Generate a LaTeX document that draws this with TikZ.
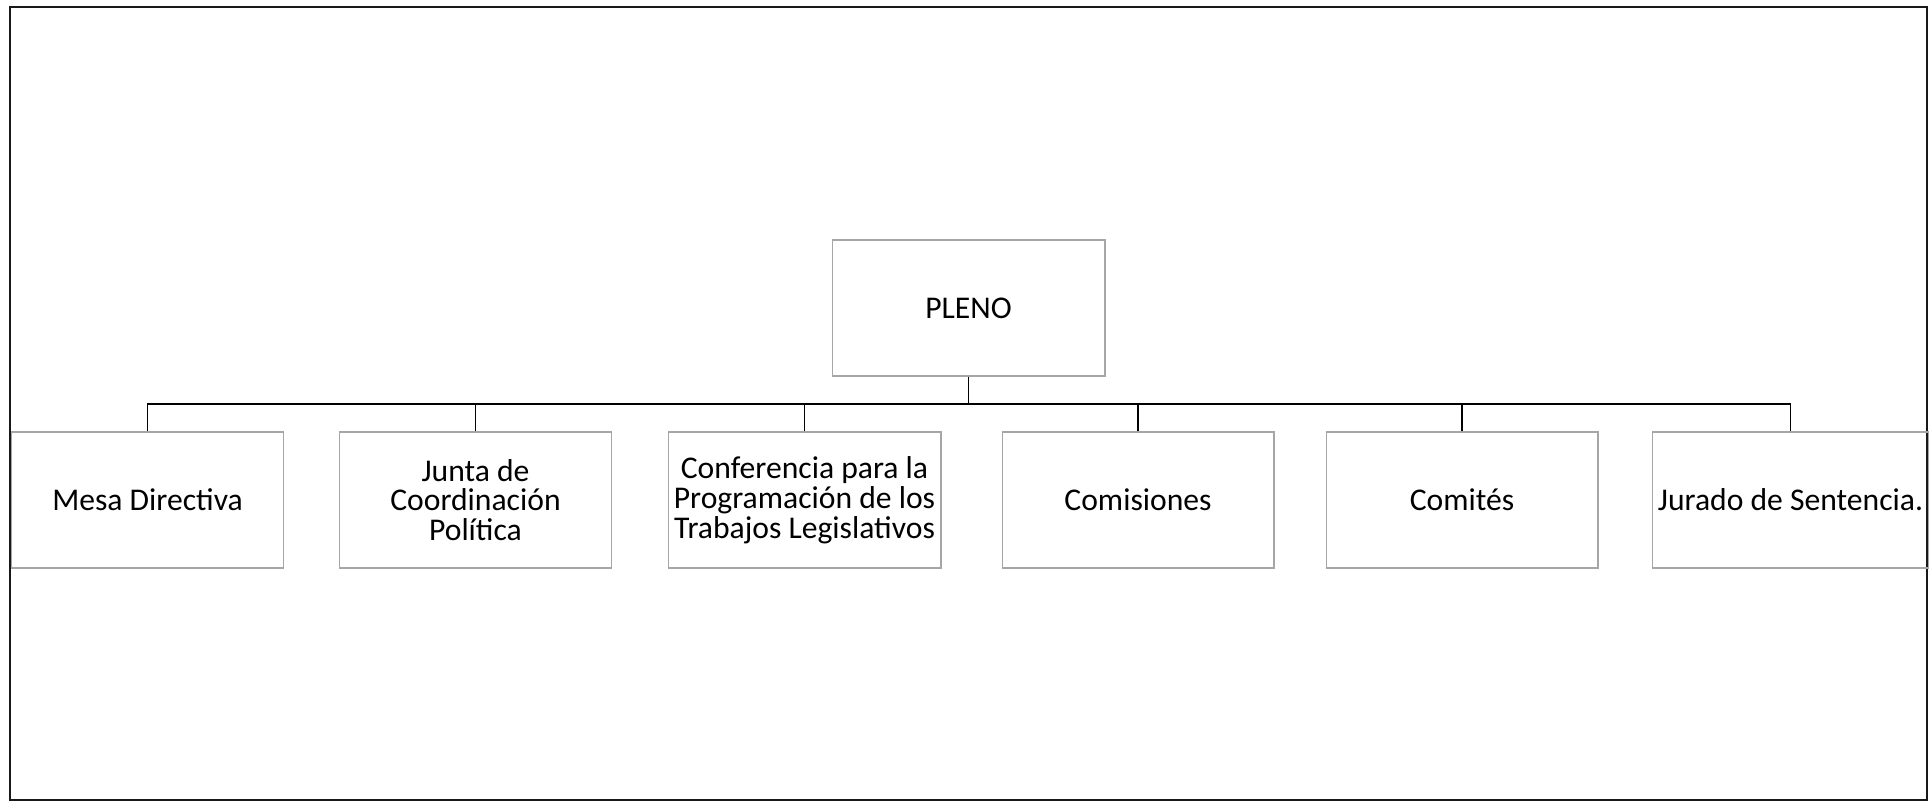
\documentclass[tikz,border=0pt]{standalone}
\usepackage{fontspec}
\setmainfont{Carlito}
\usepackage{tikz}
\usetikzlibrary{positioning,calc}
\newcommand{\orgbox}[3][]{
	\node [draw=gray!70, line width=0.6pt, minimum width=5.44cm, minimum height=2.72cm, align=center, font=\fontsize{18}{17}\selectfont] (#1) at (#2, 500) {#3};
}
\newcommand{\wlink}[1]{
	\path [draw=black, line width=1.1pt] (#1.north) -- (#1.north |- bus);
}

\begin{document}
\begin{tikzpicture}[x=0.02cm, y=-0.02cm]
		\useasboundingbox (0,0) rectangle (1929,805);
		\draw [line width=1.4pt, draw=black!90] (10,7) rectangle (1927,800);
		
		\node [draw=gray!70, line width=0.6pt, minimum width=5.46cm, minimum height=2.72cm, font=\fontsize{18}{17}\selectfont] (pleno) at (968.5, 308) {PLENO};
		\coordinate (bus) at (968.5, 404);
		
		\orgbox[mesa]{147.5}{Mesa Directiva}
		\orgbox[junta]{475.5}{Junta de\\Coordinación\\Política}
		\orgbox[conf]{804.5}{Conferencia para la\\Programación de los\\Trabajos Legislativos}
		\orgbox[comis]{1138}{Comisiones}
		\orgbox[comit]{1462}{Comités}
		\orgbox[jurado]{1790.5}{Jurado de Sentencia.}
		
		\path [draw=black, line width=1.1pt] (pleno.south) -- (bus);
		\path [draw=black, line width=1.1pt] (mesa.north) |- (jurado.north |- bus) -- (jurado.north);
		\wlink{junta}
		\wlink{conf}
		\wlink{comis}
		\wlink{comit}
		\end{tikzpicture}
\end{document}
